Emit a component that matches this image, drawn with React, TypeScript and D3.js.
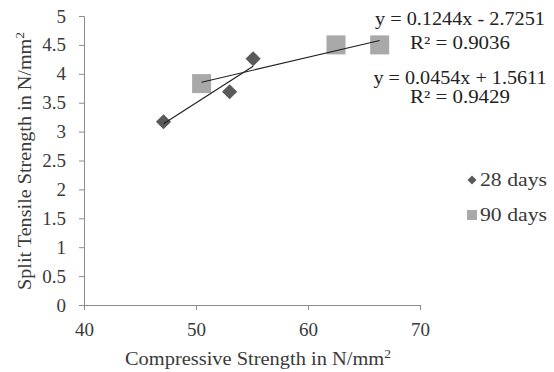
import React, { useEffect, useRef } from 'react';
import * as d3 from 'd3';

// compressive strength (x) vs split tensile strength (y)
const days28X = [47.1, 53.0, 55.1];
const days28Y = [3.17, 3.69, 4.26];
const days90X = [50.5, 62.5, 66.4];
const days90Y = [3.83, 4.5, 4.5];
const xTicks = [40, 50, 60, 70];
const yTicks = [0, 0.5, 1, 1.5, 2, 2.5, 3, 3.5, 4, 4.5, 5];
const fit28 = { slope: 0.1244, icpt: -2.7251, r2: '0.9036' };
const fit90 = { slope: 0.0454, icpt: 1.5611, r2: '0.9429' };
const seriesNames = ['28 days', '90 days'];

const W = 554;
const H = 372;
const FONT = '"Liberation Serif", "Times New Roman", serif';

const App = () => {
  const svgRef = useRef<SVGSVGElement>(null);

  useEffect(() => {
    const svg = d3.select(svgRef.current);
    svg.selectAll('*').remove();

    const x = d3.scaleLinear().domain([40, 70]).range([84, 420]);
    const y = d3.scaleLinear().domain([0, 5]).range([305, 16]);
    const axisCol = '#8c8c8c';
    const txtCol = '#3a3a3a';

    svg.append('rect').attr('width', W).attr('height', H).attr('fill', '#fff');

    // y axis
    const gy = svg.append('g').attr('transform', `translate(${x(40)},0)`)
      .call(d3.axisLeft(y).tickValues(yTicks).tickSize(5).tickPadding(13).tickFormat(d => String(d)));
    gy.select('.domain').attr('stroke', axisCol);
    gy.selectAll('.tick line').attr('stroke', axisCol);
    gy.selectAll('.tick text').attr('fill', txtCol).attr('font-size', 19).attr('font-family', FONT);

    // x axis
    const gx = svg.append('g').attr('transform', `translate(0,${y(0)})`)
      .call(d3.axisBottom(x).tickValues(xTicks).tickSize(5).tickPadding(13).tickFormat(d => String(d)));
    gx.select('.domain').attr('stroke', axisCol);
    gx.selectAll('.tick line').attr('stroke', axisCol);
    gx.selectAll('.tick text').attr('fill', txtCol).attr('font-size', 19).attr('font-family', FONT);

    // axis titles
    svg.append('text')
      .attr('x', 258).attr('y', 365)
      .attr('text-anchor', 'middle')
      .attr('font-size', 18).attr('font-family', FONT).attr('fill', txtCol)
      .attr('textLength', 266).attr('lengthAdjust', 'spacingAndGlyphs')
      .html('Compressive Strength in N/mm<tspan font-size="12" dy="-7">2</tspan>');

    svg.append('text')
      .attr('transform', 'translate(31,161) rotate(-90)')
      .attr('text-anchor', 'middle')
      .attr('font-size', 18).attr('font-family', FONT).attr('fill', txtCol)
      .attr('textLength', 258).attr('lengthAdjust', 'spacingAndGlyphs')
      .html('Split Tensile Strength in N/mm<tspan font-size="12" dy="-7">2</tspan>');

    // markers
    const diamond = d3.symbol().type(d3.symbolSquare).size(115);
    svg.append('g').selectAll('path')
      .data(days28X.map((d, i) => [d, days28Y[i]]))
      .join('path')
      .attr('d', diamond)
      .attr('transform', d => `translate(${x(d[0])},${y(d[1])}) rotate(45)`)
      .attr('fill', '#5a5a5a');

    svg.append('g').selectAll('rect')
      .data(days90X.map((d, i) => [d, days90Y[i]]))
      .join('rect')
      .attr('x', d => x(d[0]) - 9.5).attr('y', d => y(d[1]) - 9.5)
      .attr('width', 19).attr('height', 19)
      .attr('fill', '#a9a9a9');

    // linear trendlines
    const trend = (fit: typeof fit28, xs: number[]) => {
      const x0 = d3.min(xs)!;
      const x1 = d3.max(xs)!;
      svg.append('line')
        .attr('x1', x(x0)).attr('y1', y(fit.slope * x0 + fit.icpt))
        .attr('x2', x(x1)).attr('y2', y(fit.slope * x1 + fit.icpt))
        .attr('stroke', '#222').attr('stroke-width', 1.2);
    };
    trend(fit28, days28X);
    trend(fit90, days90X);

    // equations
    const eq = (txt: string, cy: number, len: number) => svg.append('text')
      .attr('x', 460).attr('y', cy).attr('text-anchor', 'middle')
      .attr('font-size', 18).attr('font-family', FONT).attr('fill', '#222')
      .attr('textLength', len).attr('lengthAdjust', 'spacingAndGlyphs')
      .text(txt);
    eq(`y = ${fit28.slope}x - ${Math.abs(fit28.icpt)}`, 25, 170);
    eq(`R² = ${fit28.r2}`, 49, 100);
    eq(`y = ${fit90.slope}x + ${fit90.icpt}`, 84, 173);
    eq(`R² = ${fit90.r2}`, 103, 100);

    // legend
    const lg = svg.append('g');
    lg.append('path')
      .attr('d', d3.symbol().type(d3.symbolSquare).size(40))
      .attr('transform', 'translate(472,180) rotate(45)')
      .attr('fill', '#5a5a5a');
    lg.append('rect').attr('x', 467).attr('y', 210).attr('width', 10).attr('height', 10).attr('fill', '#a9a9a9');
    seriesNames.forEach((n, i) => {
      lg.append('text')
        .attr('x', 480).attr('y', 186 + i * 35)
        .attr('font-size', 18).attr('font-family', FONT).attr('fill', txtCol)
        .attr('textLength', 67).attr('lengthAdjust', 'spacingAndGlyphs')
        .text(n);
    });
  }, []);

  return (
    <svg ref={svgRef} width={W} height={H} style={{ position: 'absolute', left: 0, top: 0 }} />
  );
};

export default App;
